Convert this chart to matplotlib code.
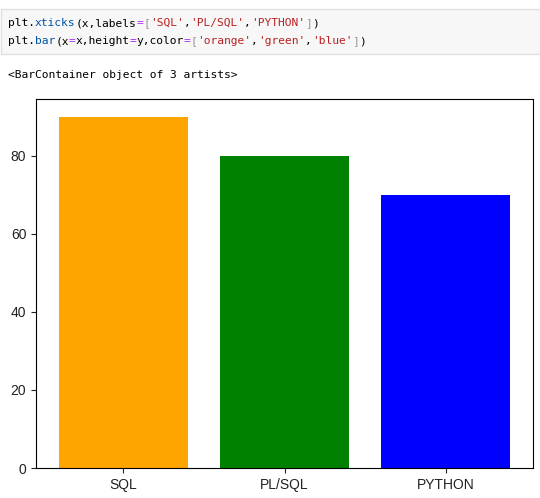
import matplotlib
matplotlib.use("Agg")
import matplotlib.pyplot as plt
from matplotlib.patches import Rectangle

# data
categories = ['SQL', 'PL/SQL', 'PYTHON']
values = [90, 80, 70]
bar_colors = ['orange', 'green', 'blue']
x = list(range(len(categories)))

# notebook cell text, split into coloured pieces
code_lines = [
    [("plt.", "#000000"), ("xticks", "#0055aa"), ("(x,labels", "#000000"), ("=", "#aa22ff"),
     ("[", "#999999"), ("'SQL'", "#ba2121"), (",", "#000000"), ("'PL/SQL'", "#ba2121"),
     (",", "#000000"), ("'PYTHON'", "#ba2121"), ("]", "#999999"), (")", "#000000")],
    [("plt.", "#000000"), ("bar", "#0055aa"), ("(x", "#000000"), ("=", "#aa22ff"), ("x,height", "#000000"),
     ("=", "#aa22ff"), ("y,color", "#000000"), ("=", "#aa22ff"), ("[", "#999999"),
     ("'orange'", "#ba2121"), (",", "#000000"), ("'green'", "#ba2121"), (",", "#000000"),
     ("'blue'", "#ba2121"), ("]", "#999999"), (")", "#000000")],
]
output_text = "<BarContainer object of 3 artists>"

W, H = 540, 498
fig = plt.figure(figsize=(W / 100, H / 100), dpi=100)

# code cell background
fig.patches.append(Rectangle((1 / W, 1 - 54 / H), 1, 45 / H, transform=fig.transFigure,
                             facecolor="#f7f7f7", edgecolor="#e0e0e0", lw=1))

cw = 6.75  # px per character
fs = 8.1
for row, y_px in zip(code_lines, [23, 41]):
    n = 0
    for seg, col in row:
        fig.text((8 + n * cw) / W, 1 - y_px / H, seg, color=col, family="DejaVu Sans Mono",
                 fontsize=fs, va="center", ha="left")
        n += len(seg)
fig.text(8 / W, 1 - 75 / H, output_text, color="#000000", family="DejaVu Sans Mono",
         fontsize=fs, va="center", ha="left")

ax = fig.add_axes([36 / W, 30 / H, 497 / W, 369 / H])
plt.sca(ax)
plt.xticks(x, labels=categories)
plt.bar(x=x, height=values, color=bar_colors)
ax.tick_params(labelsize=10, colors="#222222")
for lab in ax.get_xticklabels() + ax.get_yticklabels():
    lab.set_family("Liberation Sans")

fig.savefig("out.png", dpi=100)
